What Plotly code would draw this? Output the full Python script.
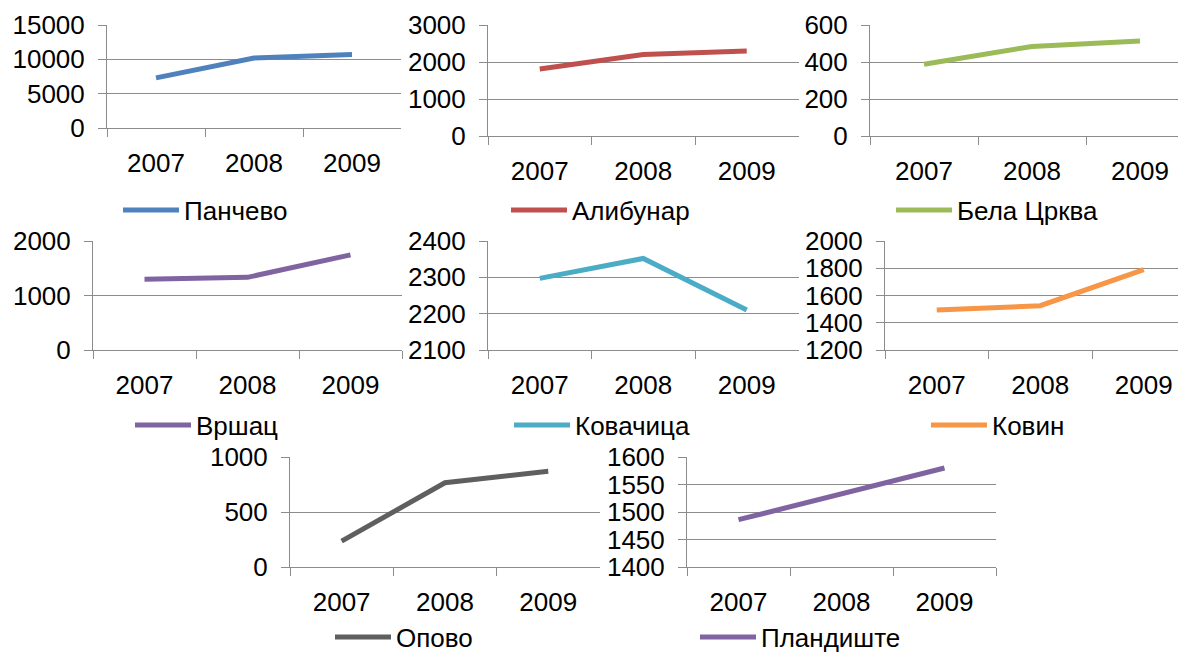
import plotly.graph_objects as go

# data
years = ['2007', '2008', '2009']
pancevo = [7300, 10200, 10700]
alibunar = [1810, 2200, 2300]
bela_crkva = [388, 484, 514]
vrsac = [1300, 1333, 1745]
kovacica = [2297, 2352, 2210]
kovin = [1493, 1525, 1790]
opovo = [235, 766, 871]
plandiste = [1486, 1533, 1580]

names = ['Панчево', 'Алибунар', 'Бела Црква', 'Вршац', 'Ковачица', 'Ковин', 'Опово', 'Пландиште']
series = [pancevo, alibunar, bela_crkva, vrsac, kovacica, kovin, opovo, plandiste]
colors = ['#4F81BD', '#C0504D', '#9BBB59', '#8064A2', '#4BACC6', '#F79646', '#5F5F5F', '#8064A2']

y_ranges = [[0, 15000], [0, 3000], [0, 600], [0, 2000], [2100, 2400], [1200, 2000], [0, 1000], [1400, 1600]]
y_dticks = [5000, 1000, 200, 1000, 100, 200, 500, 50]

# the page body has an 8px margin, so the figure is shifted by that much
OFF = 8
W, H = 1186 - OFF, 652 - OFF

# plot boxes in page pixels: left, top, bottom, category width
boxes = [
    (107, 25, 128, 98),
    (488, 25, 136, 103.5),
    (870, 25, 136, 108),
    (93, 241, 350, 103),
    (488, 241, 350, 103.5),
    (885, 241, 350, 103.5),
    (290, 457, 567, 103.3),
    (687, 457, 567, 103),
]
# legend anchor (page pixels, left of the box, centre y)
legend_pos = [(118, 210), (506, 210), (891, 210), (130, 425), (509, 425), (926, 425), (330, 637), (695, 637)]


def px(x):
    return (x - OFF) / W


def py(y):
    return 1 - (y - OFF) / H


font = dict(family='Liberation Sans, Arial, sans-serif', size=26, color='black')
grid = '#8C8C8C'

fig = go.Figure()
layout = dict(
    width=W, height=H,
    margin=dict(l=0, r=0, t=0, b=0, autoexpand=False),
    paper_bgcolor='white', plot_bgcolor='white',
    font=font, showlegend=True,
)

for i, (name, vals, col) in enumerate(zip(names, series, colors)):
    n = i + 1
    sfx = '' if n == 1 else str(n)
    lg = 'legend' if n == 1 else 'legend%d' % n
    fig.add_trace(go.Scatter(
        x=years, y=vals, mode='lines', name=name,
        line=dict(color=col, width=5),
        xaxis='x' + sfx, yaxis='y' + sfx, legend=lg, showlegend=True,
    ))
    l, t, b, cw = boxes[i]
    r = min(l + 3 * cw, W + OFF)
    right_val = -0.5 + (r - l) / cw
    layout['xaxis' + sfx] = dict(
        domain=[px(l), min(px(r), 1)], anchor='y' + sfx, type='category',
        range=[-0.5, right_val], tickson='boundaries',
        showgrid=False, showline=True, linecolor=grid, linewidth=1,
        ticks='outside', ticklen=8, tickcolor=grid,
        ticklabelstandoff=12, tickfont=font, fixedrange=True, automargin=False,
    )
    layout['yaxis' + sfx] = dict(
        domain=[py(b), py(t)], anchor='x' + sfx,
        range=y_ranges[i], dtick=y_dticks[i], tick0=0, tickformat='d',
        showgrid=True, gridcolor=grid, gridwidth=1,
        showline=True, linecolor=grid, linewidth=1,
        ticks='outside', ticklen=8, tickcolor=grid,
        ticklabelstandoff=8, tickfont=font, zeroline=False, fixedrange=True,
        automargin=False,
    )
    lx, ly = legend_pos[i]
    layout[lg] = dict(
        x=px(lx), y=py(ly), xanchor='left', yanchor='middle',
        font=font, itemwidth=56, bgcolor='rgba(0,0,0,0)',
        borderwidth=0, tracegroupgap=0, visible=True,
    )

fig.update_layout(**layout)
fig.write_html('out.html')
